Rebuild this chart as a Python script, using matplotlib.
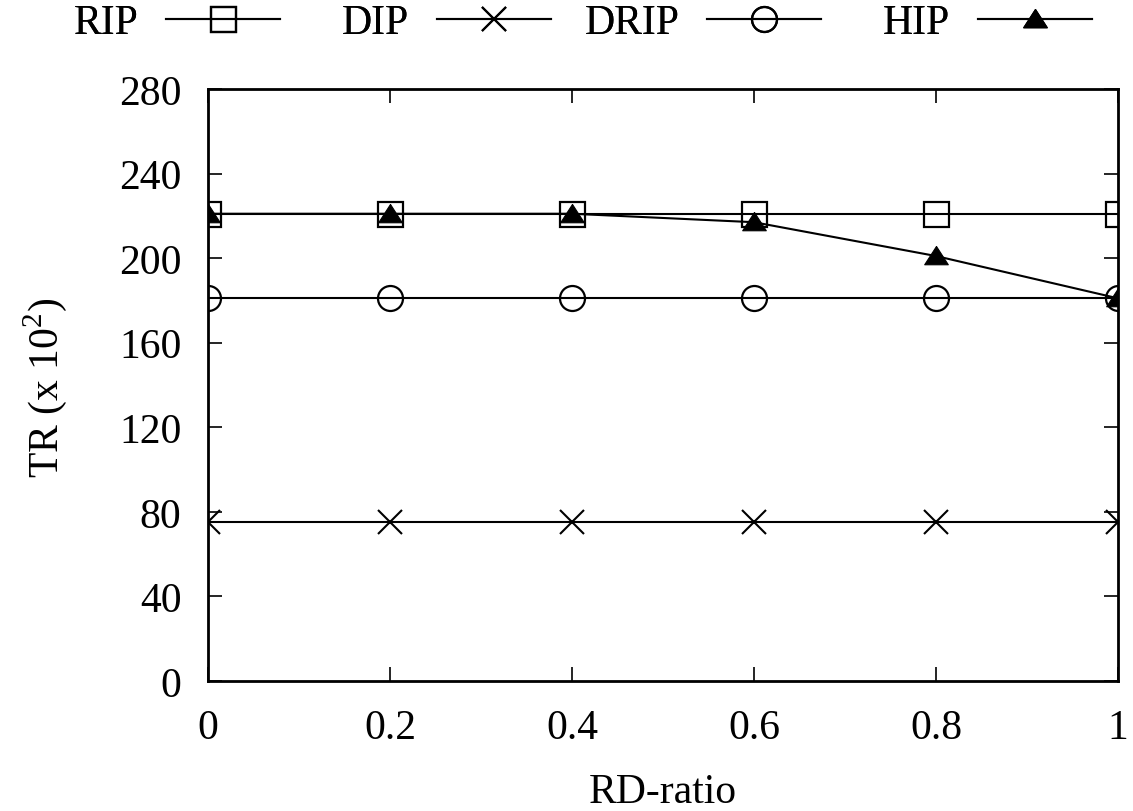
import matplotlib
matplotlib.use("Agg")
import matplotlib.pyplot as plt

plt.rcParams['font.family'] = ['Liberation Serif', 'DejaVu Serif']
plt.rcParams['mathtext.fontset'] = 'custom'
plt.rcParams['mathtext.rm'] = 'Liberation Serif'

rd_ratio = [0, 0.2, 0.4, 0.6, 0.8, 1.0]
rip = [221, 221, 221, 221, 221, 221]
dip = [75, 75, 75, 75, 75, 75]
drip = [181, 181, 181, 181, 181, 181]
hip = [221, 221, 221, 217, 201, 181]

x_ticks = [0, 0.2, 0.4, 0.6, 0.8, 1]
x_tick_labels = ['0', '0.2', '0.4', '0.6', '0.8', '1']
y_ticks = [0, 40, 80, 120, 160, 200, 240, 280]

W, H = 1133, 812
FS = 30

fig = plt.figure(figsize=(W / 100, H / 100), dpi=100)
ax = fig.add_axes([208 / W, 1 - 682 / H, (1118 - 208) / W, (682 - 90) / H])

# flattened filled triangle marker
tri = [(0, 0.85), (-1, -0.7), (1, -0.7), (0, 0.85)]

lw = 1.5
l_rip, = ax.plot(rd_ratio, rip, color='black', lw=lw, marker='s', ms=18, mfc='none', mew=1.6, label='RIP')
l_dip, = ax.plot(rd_ratio, dip, color='black', lw=lw, marker='x', ms=17, mew=1.5, label='DIP')
l_drip, = ax.plot(rd_ratio, drip, color='black', lw=lw, marker='o', ms=18, mfc='none', mew=1.6, label='DRIP')
l_hip, = ax.plot(rd_ratio, hip, color='black', lw=lw, marker=tri, ms=17, mfc='black', mew=0.8, label='HIP')

ax.set_xlim(0, 1)
ax.set_ylim(0, 280)
ax.set_xticks(x_ticks)
ax.set_xticklabels(x_tick_labels)
ax.set_yticks(y_ticks)
ax.tick_params(direction='in', length=10, width=1.2, labelsize=FS,
               top=True, right=True)
ax.tick_params(axis='y', pad=19)
ax.tick_params(axis='x', pad=20)
for s in ax.spines.values():
    s.set_linewidth(2.0)

fig.text(663 / W, 1 - 803 / H, 'RD-ratio', fontsize=FS, ha='center', va='baseline')
fig.text(45 / W, 1 - 388 / H, r'TR (x 10$^{2}$)', fontsize=FS, ha='center', va='center',
         rotation=90)

# key entries in fixed-width columns: label right-aligned before its sample line
for i, line in enumerate([l_rip, l_dip, l_drip, l_hip]):
    right_px = 280 + 270.5 * i
    leg = fig.legend(handles=[line], loc='center right',
                     bbox_to_anchor=(right_px / W, 1 - 24 / H),
                     frameon=False, fontsize=FS, markerfirst=False,
                     handlelength=2.73, handletextpad=0.67,
                     borderaxespad=0, borderpad=0)
    fig.add_artist(leg)

fig.savefig('out.png', dpi=100)
